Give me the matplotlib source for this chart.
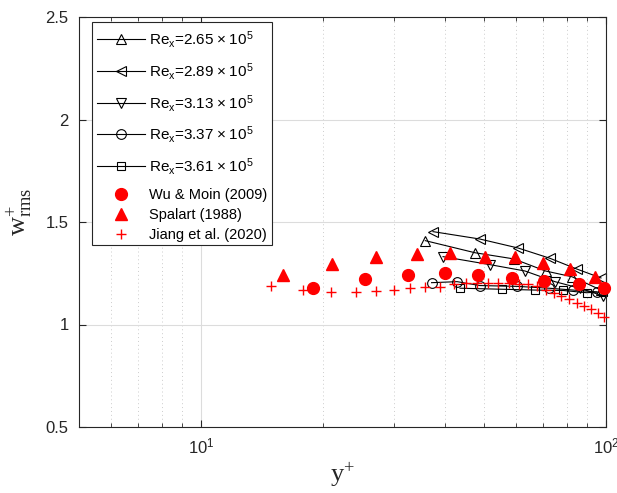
import matplotlib
matplotlib.use("Agg")
import matplotlib.pyplot as plt
from matplotlib.patches import Rectangle
from matplotlib.ticker import LogLocator, NullFormatter, FixedLocator, FixedFormatter

# ---------------- data ----------------
re_values = ["2.65", "2.89", "3.13", "3.37", "3.61"]
re_labels = [r"Re$_\mathregular{x}$=" + v +
             r"$\mathregular{\hspace{0.08}\times\hspace{0.08}}$10$^\mathregular{5}$"
             for v in re_values]

re265_y = [35.8, 47.5, 59.2, 70.9, 82.4, 97.2]
re265_w = [1.409, 1.350, 1.320, 1.261, 1.233, 1.168]

re289_y = [37.4, 48.8, 60.7, 72.7, 84.6, 97.2]
re289_w = [1.453, 1.417, 1.373, 1.323, 1.271, 1.227]

re313_y = [39.6, 51.7, 63.1, 74.8, 86.5, 98.5]
re313_w = [1.331, 1.292, 1.261, 1.209, 1.176, 1.139]

re337_y = [37.1, 42.9, 48.8, 60.4, 72.3, 83.0, 94.8]
re337_w = [1.204, 1.209, 1.190, 1.186, 1.177, 1.168, 1.159]

re361_y = [43.6, 55.3, 66.8, 78.4, 89.6, 98.5]
re361_w = [1.177, 1.172, 1.168, 1.166, 1.155, 1.160]

wu_y = [18.9, 25.4, 32.5, 40.0, 48.4, 58.7, 70.4, 85.9, 98.9]
wu_w = [1.180, 1.220, 1.241, 1.250, 1.241, 1.225, 1.212, 1.196, 1.177]

spalart_y = [15.9, 21.1, 27.1, 34.1, 41.3, 50.2, 59.6, 69.9, 81.7, 94.2]
spalart_w = [1.240, 1.297, 1.328, 1.344, 1.350, 1.328, 1.331, 1.299, 1.271, 1.230]

jiang_y = [14.93, 17.87, 21.0, 24.1, 27.0, 29.9, 32.9, 35.8, 39.0, 42.1, 45.1,
           48.0, 51.1, 54.1, 57.6, 61.0, 64.2, 67.5, 71.1, 74.4, 77.6, 81.0,
           84.6, 88.2, 91.8, 95.3, 98.9]
jiang_w = [1.188, 1.168, 1.160, 1.157, 1.163, 1.168, 1.177, 1.183, 1.184, 1.198,
           1.201, 1.201, 1.201, 1.201, 1.201, 1.198, 1.198, 1.189, 1.168, 1.155,
           1.139, 1.123, 1.106, 1.090, 1.074, 1.055, 1.038]

ref_labels = ["Wu & Moin (2009)", "Spalart (1988)", "Jiang et al. (2020)"]
yticks = [0.5, 1, 1.5, 2, 2.5]
ytick_labels = ["0.5", "1", "1.5", "2", "2.5"]

# ---------------- style ----------------
plt.rcParams['font.family'] = ['Liberation Sans', 'DejaVu Sans']
plt.rcParams['mathtext.fontset'] = 'custom'
plt.rcParams['mathtext.rm'] = 'Liberation Sans'
plt.rcParams['mathtext.it'] = 'Liberation Sans'
dark = '#262626'

fig = plt.figure(figsize=(6.17, 4.93), dpi=100)
ax = fig.add_axes([79/617, (493-427)/493, 527/617, 410/493])

sim = [(re265_y, re265_w, '^', 7.5), (re289_y, re289_w, '<', 7.5),
       (re313_y, re313_w, 'v', 7.5), (re337_y, re337_w, 'o', 7),
       (re361_y, re361_w, 's', 6)]
sim_handles = []
for (xs, ys, m, ms), lab in zip(sim, re_labels):
    h, = ax.plot(xs, ys, '-', color='black', lw=0.8, marker=m, ms=ms,
                 mfc='none', mec='black', mew=0.8, label=lab, clip_on=False)
    sim_handles.append(h)

h1, = ax.plot(wu_y, wu_w, 'o', color='red', ms=8.5, mec='red', label=ref_labels[0],
              zorder=3, clip_on=False)
h2, = ax.plot(spalart_y, spalart_w, '^', color='red', ms=8.5, mec='red', label=ref_labels[1],
              zorder=3, clip_on=False)
h3, = ax.plot(jiang_y, jiang_w, '+', color='red', ms=7, mew=1.0, label=ref_labels[2],
              zorder=3, clip_on=False)

ax.set_xscale('log')
ax.set_xlim(5, 100)
ax.set_ylim(0.5, 2.5)
ax.yaxis.set_major_locator(FixedLocator(yticks))
ax.yaxis.set_major_formatter(FixedFormatter(ytick_labels))
ax.xaxis.set_minor_locator(LogLocator(base=10, subs=range(2, 10)))
ax.xaxis.set_minor_formatter(NullFormatter())

ax.grid(True, which='major', color='#dcdcdc', lw=0.8, ls='-')
ax.grid(True, which='minor', axis='x', color='#cccccc', lw=0.7, ls=(0, (1, 3)))
ax.set_axisbelow(True)

ax.tick_params(which='both', direction='in', top=True, right=True,
               colors=dark, labelsize=12)
ax.tick_params(axis='y', pad=7.5)
ax.tick_params(axis='x', pad=6.5)
ax.tick_params(which='major', length=5, width=0.8)
ax.tick_params(which='minor', length=3, width=0.6)
for sp in ax.spines.values():
    sp.set_color(dark)
    sp.set_linewidth(0.8)

ax.set_xlabel(r'$\mathregular{y^{+}}$', family='Liberation Serif', fontsize=19, color=dark)
ax.xaxis.set_label_coords(0.5, -0.083)
ax.set_ylabel(r'$\mathregular{w^{+}_{rms}}$', family='Liberation Serif', fontsize=19, color=dark)
ax.yaxis.set_label_coords(-0.083, 0.524)

# legend: frame box + two frameless legends (different row pitch)
frame = Rectangle((0.0241, 0.4439), 0.3416, 0.5432, transform=ax.transAxes,
                  facecolor='white', edgecolor=dark, lw=0.8, zorder=4, clip_on=False)
ax.add_patch(frame)
leg1 = ax.legend(handles=sim_handles, loc='center left', bbox_to_anchor=(0.034, 0.7902),
                 borderaxespad=0, borderpad=0, fontsize=11, handlelength=3.15,
                 handletextpad=0.25, labelspacing=0.70, frameon=False)
leg1.set_zorder(5)
ax.add_artist(leg1)
leg2 = ax.legend(handles=[h1, h2, h3], loc='center left', bbox_to_anchor=(0.034, 0.5163),
                 borderaxespad=0, borderpad=0, fontsize=10.5, handlelength=3.3,
                 handletextpad=0.25, labelspacing=0.40, frameon=False)
leg2.set_zorder(5)

fig.savefig('out.png', dpi=100)
